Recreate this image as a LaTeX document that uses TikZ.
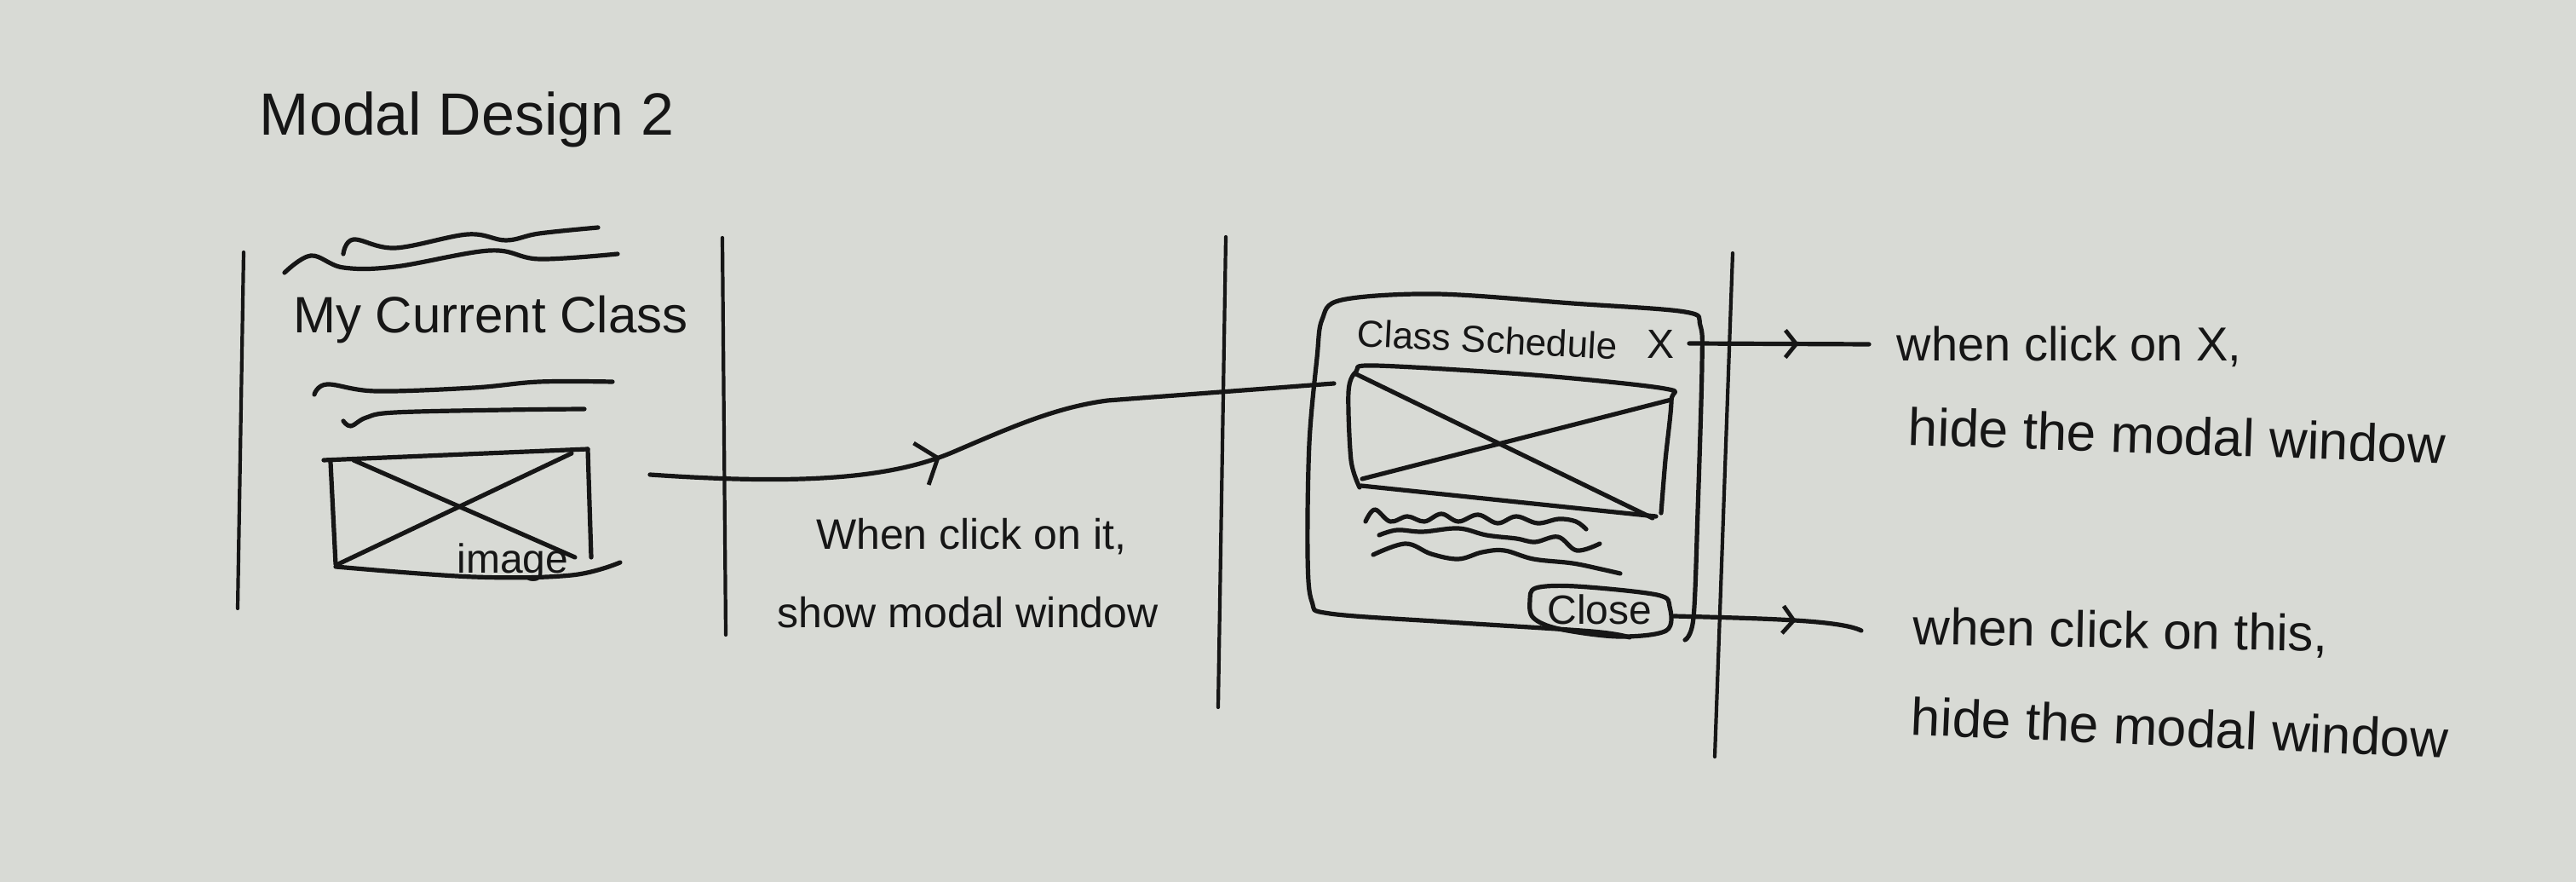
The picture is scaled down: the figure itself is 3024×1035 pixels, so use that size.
\documentclass[tikz,border=0pt]{standalone}
\usepackage{fontspec}
\setmainfont{Liberation Sans}
\usetikzlibrary{decorations.markings,arrows.meta}
\definecolor{paper}{RGB}{216,218,213}
\definecolor{ink}{RGB}{22,22,22}
\begin{document}
\begin{tikzpicture}[x=0.25pt,y=-0.25pt,
  pen/.style={draw=ink,line width=1.3pt,line cap=round,line join=round},
  rulebar/.style={draw=ink,line width=1.05pt,line cap=round},
  hand/.style={text=ink,inner sep=0pt},
  chev/.style 2 args={postaction={decorate},decoration={markings,
     mark=at position #1 with {\arrow[ink,line width=1.2pt]{Straight Barb[length=#2*0.4pt,width=#2pt]}}}},
]
\fill[paper] (0,0) rectangle (3024,1035);
\useasboundingbox (0,0) rectangle (3024,1035);

% title
\node[hand,anchor=base,font=\fontsize{17.5}{20}\selectfont] (title) at (548,159) {Modal Design 2};

% separators
\coordinate (l1t) at (286,296); \coordinate (l1b) at (279,714);
\coordinate (l2t) at (848,279); \coordinate (l2b) at (852,745);
\coordinate (l3t) at (1439,278); \coordinate (l3b) at (1430,830);
\coordinate (l4t) at (2034,297); \coordinate (l4b) at (2013,888);
\draw[rulebar] (l1t) -- (l1b);
\draw[rulebar] (l2t) -- (l2b);
\draw[rulebar] (l3t) -- (l3b);
\draw[rulebar] (l4t) -- (l4b);

% ---- first screen ----
\draw[pen] plot[smooth,tension=0.6] coordinates {(334,320) (365,300) (403,314) (464,313) (575,294) (633,304) (725,298)};
\draw[pen] plot[smooth,tension=0.6] coordinates {(403,298) (415,281) (464,291) (549,275) (594,282) (633,274) (702,267)};
\node[hand,anchor=base,font=\fontsize{15}{18}\selectfont] (cur) at (576,391) {My Current Class};
\draw[pen] plot[smooth,tension=0.6] coordinates {(369,463) (384,451) (441,459) (556,455) (633,448) (719,448)};
\draw[pen] plot[smooth,tension=0.6] coordinates {(403,494) (412,500) (430,490) (464,484) (594,481) (686,480)};
% image box
\draw[pen] (380,540) -- (690,527);
\draw[pen] (388,542) -- (394,662);
\draw[pen] plot[smooth,tension=0.6] coordinates {(394,665) (556,677) (671,675) (728,660)};
\draw[pen] (690,527) -- (694,654);
\draw[pen] (415,540) -- (675,654);
\draw[pen] (671,532) -- (397,662);
\node[hand,anchor=base,font=\fontsize{12}{14}\selectfont] (imglab) at (602,673) {image};

% connector to modal
\coordinate (a0) at (763,557);
\coordinate (m2l) at (1566,450);
\draw[pen,chev={0.42}{13}] (a0) .. controls (950,570) and (1050,560) .. (1120,530)
   .. controls (1190,500) and (1240,478) .. (1300,470) -- (m2l);
\node[hand,anchor=base,font=\fontsize{12.5}{15}\selectfont] (t1) at (1140,645) {When click on it,};
\node[hand,anchor=base,font=\fontsize{12.5}{15}\selectfont] (t2) at (1136,737) {show modal window};

% ---- modal screen ----
\draw[pen] plot[smooth,tension=0.55] coordinates {(1913,748) (1869,741) (1700,730) (1561,720) (1540,706) (1535,650) (1537,520) (1546,420) (1552,375) (1575,352) (1686,345) (1846,356) (1978,366) (1996,382) (1998,430) (1993,600) (1988,725) (1978,751)};
\node[hand,anchor=base west,rotate=-3,font=\fontsize{11}{13}\selectfont] (cs) at (1592,406) {Class Schedule};
\node[hand,anchor=base,font=\fontsize{12}{14}\selectfont] (xbtn) at (1949,421) {X};
% modal image
\draw[pen] plot[smooth,tension=0.5] coordinates {(1596,572) (1586,540) (1583,460) (1592,436) (1614,429) (1800,440) (1954,456) (1962,470) (1955,540) (1950,602)};
\draw[pen] (1598,570) -- (1944,606);
\draw[pen] (1592,439) -- (1940,608);
\draw[pen] (1599,562) -- (1962,469);
% text squiggles
\draw[pen] plot[smooth,tension=0.6] coordinates {(1603,612) (1614,598) (1632,612) (1652,606) (1672,612) (1692,603) (1712,612) (1735,604) (1758,614) (1780,606) (1805,614) (1830,609) (1850,612) (1862,621)};
\draw[pen] plot[smooth,tension=0.6] coordinates {(1619,628) (1640,622) (1670,624) (1712,620) (1745,628) (1780,632) (1802,636) (1829,630) (1851,646) (1878,638)};
\draw[pen] plot[smooth,tension=0.6] coordinates {(1612,651) (1650,638) (1680,650) (1712,656) (1740,648) (1766,646) (1800,656) (1846,661) (1880,668) (1902,673)};
% close button
\draw[pen] plot[smooth cycle,tension=0.55] coordinates {(1803,690) (1850,688) (1945,698) (1960,712) (1956,740) (1900,747) (1830,738) (1800,725) (1796,705)};
\node[hand,anchor=base,font=\fontsize{12}{14}\selectfont] (close) at (1878,733) {Close};

% ---- annotations ----
\coordinate (xR) at (1983,403);
\coordinate (xEnd) at (2194,404);
\draw[pen,chev={0.61}{8}] (xR) -- (xEnd);
\node[hand,anchor=base west,font=\fontsize{14}{17}\selectfont] (n1) at (2226,424) {when click on X,};
\node[hand,anchor=base west,rotate=-2,font=\fontsize{15.5}{18}\selectfont] (n2) at (2239,522) {hide the modal window};

\coordinate (cR) at (1965,723);
\coordinate (cEnd) at (2185,740);
\draw[pen,chev={0.65}{8}] (cR) .. controls (2080,726) and (2160,728) .. (cEnd);
\node[hand,anchor=base west,rotate=-1,font=\fontsize{15}{18}\selectfont] (n3) at (2245,756) {when click on this,};
\node[hand,anchor=base west,rotate=-2.5,font=\fontsize{15.5}{18}\selectfont] (n4) at (2242,862) {hide the modal window};
\end{tikzpicture}
\end{document}
